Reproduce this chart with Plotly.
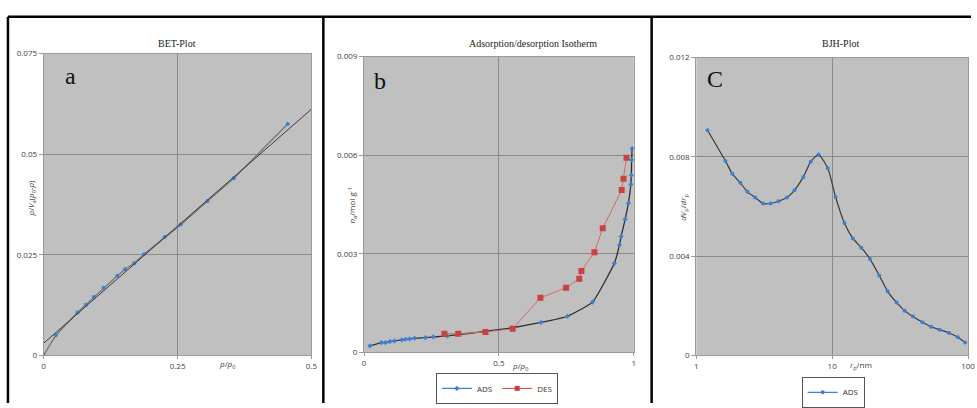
import plotly.graph_objects as go

# ---------------- data ----------------
# Panel a: BET plot
bet_x = [0.0, 0.0228, 0.063, 0.079, 0.0938, 0.1117, 0.1376, 0.1519, 0.169, 0.187,
         0.226, 0.256, 0.306, 0.355, 0.4556]
bet_y = [0.0, 0.0050, 0.01065, 0.0126, 0.0145, 0.0168, 0.0198, 0.0214, 0.0229, 0.0251,
         0.0294, 0.0325, 0.0384, 0.0440, 0.0575]
fit_x = [0.0, 0.5]
fit_y = [0.0030, 0.0612]

# Panel b: adsorption / desorption isotherm
ads_x = [0.022, 0.064, 0.080, 0.096, 0.113, 0.140, 0.154, 0.169, 0.1875, 0.228, 0.257,
         0.309, 0.456, 0.549, 0.656, 0.754, 0.847, 0.928, 0.947, 0.953, 0.968, 0.980,
         0.989, 0.991, 0.992, 0.994]
ads_y = [0.0002, 0.0003, 0.0003, 0.00033, 0.00035, 0.00038, 0.0004, 0.00041, 0.00043,
         0.00045, 0.00047, 0.0005, 0.00065, 0.00075, 0.00091, 0.0011, 0.00153, 0.00271,
         0.00327, 0.00353, 0.00405, 0.00454, 0.00511, 0.00539, 0.00586, 0.0062]
des_x = [0.298, 0.349, 0.45, 0.551, 0.654, 0.749, 0.798, 0.806, 0.854, 0.885, 0.955,
         0.962, 0.973]
des_y = [0.00057, 0.00057, 0.00062, 0.00072, 0.00166, 0.00197, 0.00224, 0.00248,
         0.00305, 0.00378, 0.00494, 0.00528, 0.00592]

# Panel c: BJH plot
bjh_r = [1.21, 1.64, 1.84, 2.11, 2.38, 2.71, 3.10, 3.51, 4.03, 4.64, 5.28, 6.14, 6.95,
         7.94, 9.29, 10.6, 12.3, 14.2, 16.4, 19.0, 22.2, 25.6, 29.8, 34.1, 39.3, 46.2,
         53.4, 61.8, 72.7, 84.1, 95.1]
bjh_v = [0.00907, 0.00783, 0.00732, 0.00695, 0.00659, 0.00636, 0.00612, 0.00612, 0.00621,
         0.00636, 0.00665, 0.00719, 0.0078, 0.00809, 0.00754, 0.00638, 0.00533, 0.00471,
         0.00434, 0.00388, 0.00322, 0.00258, 0.00213, 0.0018, 0.00156, 0.00133, 0.00115,
         0.00103, 0.0009, 0.00073, 0.00052]

a_xticks = [0, 0.25, 0.5]
a_yticks = [0, 0.025, 0.05, 0.075]
b_xticks = [0, 0.5, 1]
b_yticks = [0, 0.003, 0.006, 0.009]
c_xticks = [1, 10, 100]
c_yticks = [0, 0.004, 0.008, 0.012]

# ---------------- style ----------------
W, H = 977, 408
BG = "#c0c0c0"
GRID = "#8a8a8a"
BLUE = "#3d7fd1"
RED = "#c8423f"
TICKF = dict(family="Open Sans, Liberation Sans, sans-serif", size=8, color="#404040")
SERIF = "Liberation Serif, DejaVu Serif, serif"
SANS = "Open Sans, Liberation Sans, sans-serif"


def dx(p):
    return p / W


def dy(p):
    return 1 - p / H


fig = go.Figure()

# Panel a
fig.add_trace(go.Scatter(x=bet_x, y=bet_y, mode="lines+markers", xaxis="x", yaxis="y",
                         line=dict(color="#7a7a7a", width=1.4),
                         marker=dict(color=BLUE, size=4), showlegend=False))
fig.add_trace(go.Scatter(x=fit_x, y=fit_y, mode="lines", xaxis="x", yaxis="y",
                         line=dict(color="#3a3a3a", width=1), showlegend=False))

# Panel b
fig.add_trace(go.Scatter(x=ads_x, y=ads_y, mode="lines+markers", xaxis="x2", yaxis="y2",
                         line=dict(color="#2e2e2e", width=1.3, shape="spline", smoothing=0.4),
                         marker=dict(color=BLUE, size=4, symbol="diamond"), showlegend=False))
fig.add_trace(go.Scatter(x=des_x, y=des_y, mode="lines+markers", xaxis="x2", yaxis="y2",
                         line=dict(color="#d06a68", width=1),
                         marker=dict(color=RED, size=6, symbol="square"), showlegend=False))
# legend entries for panel b
fig.add_trace(go.Scatter(x=[None], y=[None], mode="lines+markers", name="ADS", xaxis="x2", yaxis="y2",
                         line=dict(color=BLUE, width=1.3), marker=dict(color=BLUE, size=4, symbol="diamond"),
                         legend="legend"))
fig.add_trace(go.Scatter(x=[None], y=[None], mode="lines+markers", name="DES", xaxis="x2", yaxis="y2",
                         line=dict(color=RED, width=1), marker=dict(color=RED, size=5, symbol="square"),
                         legend="legend"))

# Panel c
fig.add_trace(go.Scatter(x=bjh_r, y=bjh_v, mode="lines+markers", xaxis="x3", yaxis="y3",
                         line=dict(color="#3a3a3a", width=1.2, shape="spline", smoothing=0.6),
                         marker=dict(color=BLUE, size=4), showlegend=False))
fig.add_trace(go.Scatter(x=[None], y=[None], mode="lines+markers", name="ADS", xaxis="x3", yaxis="y3",
                         line=dict(color=BLUE, width=1.2), marker=dict(color=BLUE, size=4),
                         legend="legend2"))


def xax(domain, rng, ticks, anchor, typ="linear"):
    return dict(domain=domain, range=rng, tickvals=ticks, type=typ, anchor=anchor,
                showgrid=True, gridcolor=GRID, gridwidth=1, zeroline=False,
                showline=True, linecolor="#9a9a9a", linewidth=1, mirror=True,
                ticks="outside", ticklen=3, tickcolor="#9a9a9a", tickfont=TICKF,
                fixedrange=True)


def yax(domain, rng, ticks, anchor):
    return dict(domain=domain, range=rng, tickvals=ticks, anchor=anchor,
                tickformat="~g",
                showgrid=True, gridcolor=GRID, gridwidth=1, zeroline=False,
                showline=True, linecolor="#9a9a9a", linewidth=1, mirror=True,
                ticks="outside", ticklen=4, tickcolor="#9a9a9a", tickfont=TICKF,
                fixedrange=True)


LEGF = dict(family=SANS, size=8, color="#333333")
fig.update_layout(
    width=W, height=H, margin=dict(l=0, r=0, t=0, b=0),
    paper_bgcolor="white", plot_bgcolor=BG,
    xaxis=xax([dx(42), dx(312)], [0, 0.5], a_xticks, "y"),
    yaxis=yax([dy(359), dy(49)], [0, 0.075], a_yticks, "x"),
    xaxis2=xax([dx(365), dx(637)], [0, 1], b_xticks, "y2"),
    yaxis2=yax([dy(356), dy(52)], [0, 0.009], b_yticks, "x2"),
    xaxis3=xax([dx(700), dx(974)], [0, 2], c_xticks, "y3", typ="log"),
    yaxis3=yax([dy(359), dy(53)], [0, 0.012], c_yticks, "x3"),
    legend=dict(x=dx(499), y=dy(393), xanchor="center", yanchor="middle",
                orientation="h", bordercolor="#555555", borderwidth=1, bgcolor="white",
                font=LEGF, itemwidth=30, tracegroupgap=0),
    legend2=dict(x=dx(838), y=dy(397), xanchor="center", yanchor="middle",
                 orientation="h", bordercolor="#555555", borderwidth=1, bgcolor="white",
                 font=LEGF, itemwidth=30),
)

ann = []


def text(x, y, s, size=9, family=SERIF, color="#222222", angle=0, xanchor="center"):
    ann.append(dict(x=dx(x), y=dy(y), xref="paper", yref="paper", text=s, showarrow=False,
                    font=dict(family=family, size=size, color=color), textangle=angle,
                    xanchor=xanchor, yanchor="middle"))


# titles
text(176, 39, "BET-Plot", size=10)
text(535, 39, "Adsorption/desorption Isotherm", size=10)
text(845, 39, "BJH-Plot", size=10)
# panel letters
text(69, 72, "a", size=24, color="#111111")
text(381, 77, "b", size=24, color="#111111")
text(719, 75, "C", size=24, color="#111111")
# axis titles
text(227, 368, "<i>p</i>/<i>p</i><sub>0</sub>", size=8, family=SANS, color="#404040")
text(522, 370, "<i>p</i>/<i>p</i><sub>0</sub>", size=8, family=SANS, color="#404040")
text(866, 369, "<i>r</i><sub>p</sub>/nm", size=8, family=SANS, color="#404040")
text(30, 198, "<i>p</i>/<i>V</i><sub>a</sub>(<i>p</i><sub>0</sub>-<i>p</i>)", size=8, family=SANS,
     color="#404040", angle=-90)
text(353, 205, "<i>n</i><sub>a</sub>/mol g<sup>-1</sup>", size=8, family=SANS, color="#404040", angle=-90)
text(687, 207, "<i>dV</i><sub>p</sub>/<i>dr</i><sub>p</sub>", size=8, family=SANS, color="#404040",
     angle=-90)
fig.update_layout(annotations=ann)

# frame lines
shapes = []
for (x0, y0, x1, y1) in [(6, 11, 977, 11), (6, 11, 6, 408), (324, 11, 324, 408), (655, 11, 655, 408)]:
    shapes.append(dict(type="line", xref="paper", yref="paper", x0=dx(x0), y0=dy(y0),
                       x1=dx(x1), y1=dy(y1), line=dict(color="black", width=2.5)))
fig.update_layout(shapes=shapes)

fig.write_html("out.html")
